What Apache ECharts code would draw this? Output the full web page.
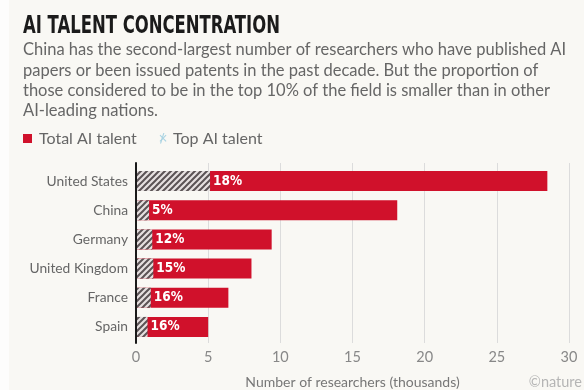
<!DOCTYPE html>
<html>
<head>
<meta charset="utf-8">
<script src="https://cdn.jsdelivr.net/npm/echarts@6/dist/echarts.min.js"></script>
<style>
  html, body { margin: 0; padding: 0; background: #f9f8f4; }
  #chart { width: 584px; height: 390px; }
</style>
</head>
<body>
<div id="chart"></div>
<script>
// Researchers (thousands) who published AI papers or were issued patents
const categories = ['United States', 'China', 'Germany', 'United Kingdom', 'France', 'Spain'];
const totalTalent = [28.5, 18.1, 9.4, 8.0, 6.4, 5.0];
// Share (%) of those researchers in the top 10% of the field
const topShare = [18, 5, 12, 15, 16, 16];
const xTicks = [0, 5, 10, 15, 20, 25, 30];

const topTalent = totalTalent.map((t, i) => +(t * topShare[i] / 100).toFixed(3));

const BODY_FONT = 'Lato, "Open Sans", sans-serif';
const RED = '#d0112b';

// Diagonal hatch used for the "top talent" portion of each bar
function hatch(stroke, bg) {
  const c = document.createElement('canvas');
  c.width = 6; c.height = 6;
  const g = c.getContext('2d');
  g.fillStyle = bg; g.fillRect(0, 0, 6, 6);
  g.strokeStyle = stroke; g.lineWidth = 2;
  g.beginPath();
  g.moveTo(-1, 7); g.lineTo(7, -1);
  g.moveTo(-1, 1); g.lineTo(1, -1);
  g.moveTo(5, 7); g.lineTo(7, 5);
  g.stroke();
  return c;
}

// Fit the condensed headline into its width
function titleScale(text, font, width) {
  const g = document.createElement('canvas').getContext('2d');
  g.font = font;
  return width / g.measureText(text).width;
}

const TITLE = 'AI TALENT CONCENTRATION';
const TITLE_FONT = 'bold 25px "DejaVu Sans Condensed", "Liberation Sans Narrow", sans-serif';

const subtitle = [
  'China has the second-largest number of researchers who have published AI',
  'papers or been issued patents in the past decade. But the proportion of',
  'those considered to be in the top 10% of the field is smaller than in other',
  'AI-leading nations.'
];

const chart = echarts.init(document.getElementById('chart'), null, { renderer: 'canvas' });

chart.setOption({
  backgroundColor: '#f9f8f4',
  animation: false,
  grid: [
    { left: 136, right: 15, top: 166.5, bottom: 48.5 },
    { left: 136, right: 15, top: 163, bottom: 40 }
  ],
  xAxis: [
    { gridIndex: 0, type: 'value', min: 0, max: 30, interval: 5, show: false },
    {
      gridIndex: 1, type: 'value', min: xTicks[0], max: xTicks[xTicks.length - 1], interval: 5,
      axisLine: { show: false }, axisTick: { show: false },
      axisLabel: { color: '#888', fontSize: 14.5, fontFamily: BODY_FONT, margin: 7 },
      splitLine: { show: true, lineStyle: { color: '#dcdcdc', width: 1 } },
      name: 'Number of researchers (thousands)',
      nameLocation: 'middle', nameGap: 32,
      nameTextStyle: { color: '#777', fontSize: 14, fontFamily: BODY_FONT }
    }
  ],
  yAxis: [
    {
      gridIndex: 0, type: 'category', data: categories, inverse: true,
      axisLine: { show: false }, axisTick: { show: false },
      axisLabel: { color: '#666', fontSize: 13.8, fontFamily: BODY_FONT, margin: 8 }
    },
    {
      gridIndex: 1, type: 'value', min: 0, max: 1, z: 5,
      axisLabel: { show: false }, axisTick: { show: false }, splitLine: { show: false },
      axisLine: { show: true, onZero: false, lineStyle: { color: '#1a1a1a', width: 2 } }
    }
  ],
  series: [
    {
      name: 'Total AI talent', type: 'bar',
      xAxisIndex: 0, yAxisIndex: 0,
      data: totalTalent, barWidth: 20,
      itemStyle: { color: RED }
    },
    {
      name: 'Top AI talent', type: 'bar',
      xAxisIndex: 0, yAxisIndex: 0,
      data: topTalent, barWidth: 20, barGap: '-100%',
      itemStyle: { color: { image: hatch('#5b5355', '#e6e0e0'), repeat: 'repeat' } },
      label: {
        show: true, position: 'right', distance: 3,
        formatter: p => topShare[p.dataIndex] + '%',
        color: '#fff', fontWeight: 'bold', fontSize: 13.5,
        fontFamily: '"DejaVu Sans Condensed", sans-serif'
      }
    }
  ],
  graphic: [
    { type: 'rect', left: 0, top: 0, shape: { width: 9, height: 390 }, style: { fill: '#fdfdfc' }, silent: true },
    {
      type: 'text', x: 23, y: 26.5, scaleX: titleScale(TITLE, TITLE_FONT, 257),
      style: { text: TITLE, font: TITLE_FONT, fill: '#1b1b1b', textVerticalAlign: 'middle' }
    },
    ...subtitle.map((line, i) => ({
      type: 'text', x: 23, y: 50 + i * 20.3,
      style: { text: line, font: '16.5px ' + BODY_FONT, fill: '#666', textVerticalAlign: 'middle' }
    })),
    // legend
    { type: 'rect', shape: { x: 23, y: 134, width: 9, height: 9 }, style: { fill: RED } },
    { type: 'text', x: 39, y: 139, style: { text: 'Total AI talent', font: '16px ' + BODY_FONT, fill: '#666', textVerticalAlign: 'middle' } },
    { type: 'text', x: 158, y: 139, style: { text: '\u2a2f', font: '12px "DejaVu Sans", sans-serif', fill: '#a9d3e2', textVerticalAlign: 'middle' } },
    { type: 'text', x: 160, y: 139, style: { text: '/', font: '13px "DejaVu Sans", sans-serif', fill: '#a9d3e2', textVerticalAlign: 'middle' } },
    { type: 'text', x: 173, y: 139, style: { text: 'Top AI talent', font: '16px ' + BODY_FONT, fill: '#666', textVerticalAlign: 'middle' } },
    { type: 'text', x: 582, y: 382, style: { text: '\u00a9nature', font: '14.5px ' + BODY_FONT, fill: '#b5b5b5', textAlign: 'right', textVerticalAlign: 'middle' } }
  ]
});
</script>
</body>
</html>
